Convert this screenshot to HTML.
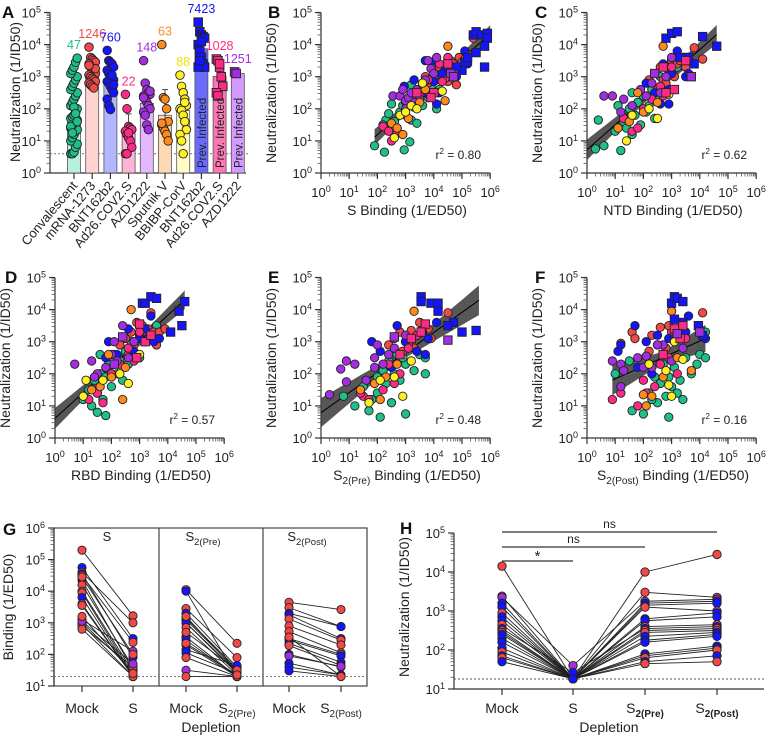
<!DOCTYPE html>
<html><head><meta charset="utf-8"><title>Neutralization vs binding figure</title>
<style>
html,body{margin:0;padding:0;background:#fff;}
svg{display:block;font-family:"Liberation Sans",Arial,sans-serif;}
</style></head>
<body>
<svg id="fig" width="768" height="738" viewBox="0 0 768 738" xmlns="http://www.w3.org/2000/svg"></svg>
<script>
// ===== Panel A data (log10 values) =====
const aCategories=["Convalescent","mRNA-1273","BNT162b2","Ad26.COV2.S","AZD1222","Sputnik V","BBIBP-CorV","BNT162b2","Ad26.COV2.S","AZD1222"];
const aGeoMeans=[47,1246,760,22,148,63,88,7423,1028,1251];
const aColors=["g","r","b","p","m","o","y","B","P","M"];
const aPrevInfected=[false,false,false,false,false,false,false,true,true,true];
const aPoints=[
[0.6,0.6,0.65,0.8,0.9,1.0,1.1,1.2,1.3,1.35,1.4,1.5,1.55,1.6,1.65,1.7,1.75,1.8,1.9,2.0,2.1,2.2,2.3,2.4,2.5,2.6,2.7,2.8,2.9,3.0,3.1,3.2,3.3,3.45,3.58,1.45,1.25,2.05,1.85,1.6],
[3.92,3.6,3.55,3.5,3.45,3.4,3.3,3.2,3.15,3.1,3.05,3.0,2.95,2.9,2.85,2.8,2.75,2.7,2.65,3.25,3.35],
[3.82,3.5,3.45,3.4,3.3,3.2,3.1,3.0,2.95,2.9,2.85,2.8,2.7,2.6,2.5,2.3,2.1,1.98,3.05,2.75],
[2.45,2.0,1.45,1.4,1.35,1.3,1.2,1.1,1.0,0.8,0.6,0.6,1.25],
[3.5,2.8,2.6,2.5,2.45,2.4,2.3,2.2,2.1,2.0,1.9,1.8,1.5,1.35,2.55,2.35],
[4.0,2.35,2.3,2.0,1.6,1.5,1.4,1.3,1.2,1.0,1.55],
[3.05,2.7,2.5,2.3,2.1,2.0,1.95,1.8,1.6,1.35,1.2,1.0,0.6,2.2],
[4.7,4.4,4.3,4.25,4.2,4.0,3.8,3.6,3.4,3.3,3.3,3.5,4.1],
[3.55,3.5,3.3,3.0,2.7,2.5,2.4,3.4],
[3.15,3.1]
];
const aLimitLog=0.6;

// ===== Scatter panels data [log10 binding, log10 neutralization, group] =====
const panelBPoints=[[1.9,0.85,'g'],[2.25,0.65,'g'],[2.95,0.72,'g'],[3.15,0.97,'g'],[2.3,1.65,'g'],[2.4,1.85,'g'],[2.5,1.3,'g'],[2.6,1.2,'g'],[2.7,1.4,'g'],[2.5,2.15,'g'],[2.8,1.9,'g'],[3.0,1.8,'g'],[3.2,1.65,'g'],[3.3,2.05,'g'],[3.4,1.55,'g'],[2.6,1.6,'g'],[3.5,2.4,'g'],[3.8,2.35,'g'],[3.9,2.7,'g'],[4.1,2.0,'g'],[4.2,2.6,'g'],[4.3,2.9,'g'],[4.4,3.3,'g'],[3.2,2.75,'g'],[4.0,3.0,'g'],[2.2,1.5,'g'],[2.9,2.1,'g'],[3.6,2.1,'g'],[4.5,3.55,'g'],
[3.7,3.0,'r'],[3.8,2.8,'r'],[4.0,3.2,'r'],[4.1,3.4,'r'],[4.3,3.1,'r'],[4.5,3.3,'r'],[4.6,3.5,'r'],[4.7,3.4,'r'],[4.8,2.75,'r'],[4.5,2.85,'r'],[4.9,3.6,'r'],[5.0,3.45,'r'],[5.1,3.55,'r'],[5.2,3.7,'r'],[4.2,3.3,'r'],[4.6,3.1,'r'],[5.4,4.2,'r'],[4.4,2.95,'r'],
[2.95,2.7,'b'],[3.3,2.9,'b'],[3.7,3.5,'b'],[3.9,3.45,'b'],[4.0,2.85,'b'],[4.2,2.5,'b'],[4.1,2.15,'b'],[4.4,3.3,'b'],[4.6,3.1,'b'],[4.8,3.0,'b'],[5.0,3.3,'b'],[5.1,3.8,'b'],[5.2,3.4,'b'],[4.3,3.1,'b'],[3.8,2.45,'b'],[3.2,2.15,'b'],
[2.2,1.45,'p'],[2.4,1.3,'p'],[2.5,1.0,'p'],[2.7,1.25,'p'],[3.0,2.2,'p'],[3.3,2.4,'p'],[3.8,2.9,'p'],[4.2,3.4,'p'],[4.3,2.85,'p'],[4.5,3.6,'p'],[3.5,2.4,'p'],
[2.55,2.4,'m'],[2.8,2.4,'m'],[3.0,2.25,'m'],[3.1,2.35,'m'],[3.2,2.5,'m'],[3.4,2.6,'m'],[3.6,2.75,'m'],[3.7,2.9,'m'],[3.8,3.5,'m'],[3.9,3.25,'m'],[4.1,3.6,'m'],[3.5,2.3,'m'],[2.9,2.6,'m'],[4.0,3.1,'m'],[3.3,2.2,'m'],[3.0,2.0,'m'],
[2.5,1.55,'o'],[2.7,1.4,'o'],[2.9,1.2,'o'],[3.5,2.2,'o'],[4.5,3.95,'o'],[4.4,2.25,'o'],[3.7,2.6,'o'],[3.1,1.7,'o'],
[2.6,1.1,'y'],[2.8,1.8,'y'],[3.0,1.9,'y'],[3.2,2.1,'y'],[3.6,2.8,'y'],[4.3,2.55,'y'],[3.4,2.0,'y'],
[5.4,4.3,'B'],[5.5,4.4,'B'],[5.7,4.3,'B'],[5.9,4.35,'B'],[5.9,4.2,'B'],[5.5,3.75,'B'],[5.8,3.95,'B'],[5.8,3.3,'B'],[5.1,3.45,'B'],[5.0,3.2,'B'],[5.2,3.6,'B'],[4.8,3.3,'B'],
[4.5,3.4,'P'],[4.7,3.0,'P'],[4.0,2.5,'P'],[3.9,2.35,'P'],[3.4,2.5,'P'],[4.6,3.1,'M'],[4.7,3.0,'M']];
const panelCPoints=[[0.3,0.75,'g'],[0.4,1.65,'g'],[0.6,0.85,'g'],[1.0,1.3,'g'],[1.1,2.1,'g'],[1.2,0.7,'g'],[1.3,1.6,'g'],[1.4,1.4,'g'],[1.5,2.0,'g'],[1.6,1.2,'g'],[1.7,1.8,'g'],[1.8,2.2,'g'],[1.9,1.5,'g'],[2.0,2.4,'g'],[2.1,1.9,'g'],[2.2,2.1,'g'],[2.3,2.6,'g'],[2.5,2.3,'g'],[2.6,3.0,'g'],[2.8,2.7,'g'],[2.4,1.7,'g'],[1.6,2.5,'g'],[3.0,3.5,'g'],[3.2,3.3,'g'],
[2.2,2.9,'r'],[2.4,3.1,'r'],[2.6,3.3,'r'],[2.7,2.9,'r'],[2.9,3.2,'r'],[3.0,3.5,'r'],[3.1,3.0,'r'],[3.2,3.4,'r'],[3.3,3.5,'r'],[3.5,3.3,'r'],[3.6,3.6,'r'],[3.8,3.9,'r'],[4.1,3.55,'r'],[2.5,2.6,'r'],[2.8,2.8,'r'],
[2.1,2.8,'b'],[2.4,2.5,'b'],[2.7,3.4,'b'],[2.9,2.6,'b'],[3.0,3.1,'b'],[3.2,3.8,'b'],[3.4,3.6,'b'],[3.5,3.0,'b'],[3.6,3.1,'b'],[2.6,2.15,'b'],[2.9,2.15,'b'],
[1.3,1.7,'p'],[1.6,1.3,'p'],[1.8,1.4,'p'],[2.0,2.0,'p'],[2.3,2.3,'p'],[2.6,2.7,'p'],[3.0,3.3,'p'],[2.7,2.4,'p'],
[0.6,2.4,'m'],[0.9,2.4,'m'],[1.3,2.3,'m'],[1.6,2.1,'m'],[1.9,2.6,'m'],[2.1,2.4,'m'],[2.3,2.8,'m'],[2.6,2.5,'m'],[2.8,3.0,'m'],[1.2,1.9,'m'],[3.0,3.6,'m'],
[1.1,1.4,'o'],[1.5,1.6,'o'],[2.0,1.9,'o'],[2.5,2.2,'o'],[2.7,3.95,'o'],[1.8,2.5,'o'],
[1.4,1.0,'y'],[1.6,1.8,'y'],[2.2,2.0,'y'],[2.5,1.7,'y'],[2.9,2.45,'y'],
[2.8,4.2,'B'],[3.0,4.35,'B'],[3.2,4.4,'B'],[4.1,4.25,'B'],[4.6,3.95,'B'],[3.8,3.4,'B'],[3.6,3.6,'B'],[3.3,3.6,'B'],
[2.7,3.3,'P'],[3.5,3.5,'P'],[3.1,2.6,'P'],[2.8,2.5,'P'],[2.4,3.1,'M'],[3.7,3.0,'M']];
const panelDPoints=[[1.0,1.2,'g'],[1.2,1.5,'g'],[1.3,1.0,'g'],[1.4,1.8,'g'],[1.5,1.4,'g'],[1.6,2.0,'g'],[1.7,1.2,'g'],[1.8,1.9,'g'],[1.9,2.3,'g'],[2.0,1.6,'g'],[2.1,2.6,'g'],[2.2,2.0,'g'],[2.3,2.4,'g'],[2.5,2.7,'g'],[2.6,2.3,'g'],[2.7,3.0,'g'],[2.9,2.6,'g'],[1.6,2.6,'g'],[2.4,1.8,'g'],[3.0,2.5,'g'],[1.5,0.8,'g'],[1.8,0.7,'g'],[3.6,3.5,'g'],
[2.3,2.9,'r'],[2.5,3.1,'r'],[2.7,3.3,'r'],[2.8,2.9,'r'],[3.0,3.2,'r'],[3.1,3.5,'r'],[3.2,3.0,'r'],[3.3,3.4,'r'],[3.4,3.9,'r'],[3.5,3.3,'r'],[3.7,3.3,'r'],[3.9,3.4,'r'],[2.6,2.6,'r'],[2.9,3.6,'r'],[3.6,2.9,'r'],
[1.9,3.0,'b'],[2.2,2.6,'b'],[2.6,3.4,'b'],[2.8,2.7,'b'],[3.0,3.1,'b'],[3.2,3.4,'b'],[3.4,3.8,'b'],[3.5,3.0,'b'],[3.7,3.1,'b'],[2.1,2.3,'b'],[1.8,2.5,'b'],
[1.2,1.2,'p'],[1.5,1.4,'p'],[1.7,1.1,'p'],[2.0,2.0,'p'],[2.3,2.3,'p'],[2.6,2.8,'p'],[3.0,3.3,'p'],[2.8,2.4,'p'],
[0.7,2.3,'m'],[1.3,2.4,'m'],[1.5,2.0,'m'],[1.8,2.2,'m'],[2.0,2.6,'m'],[2.2,2.4,'m'],[2.4,3.5,'m'],[2.6,2.5,'m'],[2.8,3.0,'m'],[1.4,1.9,'m'],[2.1,3.0,'m'],
[1.3,1.5,'o'],[1.6,1.6,'o'],[2.0,1.9,'o'],[2.4,1.2,'o'],[2.7,4.0,'o'],[1.9,2.6,'o'],[2.5,2.2,'o'],
[1.0,1.3,'y'],[1.7,1.8,'y'],[2.3,2.0,'y'],[2.6,1.7,'y'],[3.0,2.6,'y'],[1.1,1.8,'y'],
[3.1,4.2,'B'],[3.2,4.2,'B'],[3.4,4.4,'B'],[3.6,4.35,'B'],[4.6,4.25,'B'],[4.4,3.95,'B'],[4.5,3.5,'B'],[4.1,3.3,'B'],
[3.0,3.55,'P'],[3.2,3.0,'P'],[3.4,3.2,'P'],[2.9,2.5,'P'],[2.4,3.15,'M'],[2.1,2.3,'M']];
const panelEPoints=[[0.8,1.3,'g'],[1.2,1.0,'g'],[1.5,1.6,'g'],[1.8,1.2,'g'],[2.0,1.9,'g'],[2.0,1.4,'g'],[2.2,2.1,'g'],[2.3,1.7,'g'],[2.4,2.4,'g'],[2.5,1.1,'g'],[2.6,2.0,'g'],[2.7,2.6,'g'],[2.8,1.8,'g'],[3.0,2.3,'g'],[3.1,2.9,'g'],[3.3,2.1,'g'],[3.5,2.6,'g'],[3.7,2.5,'g'],[2.9,2.5,'g'],[2.1,0.65,'g'],[3.0,0.75,'g'],[1.7,0.85,'g'],[3.7,2.0,'g'],[3.6,3.5,'g'],
[2.4,2.9,'r'],[2.6,3.1,'r'],[2.8,3.3,'r'],[3.0,3.0,'r'],[3.2,3.35,'r'],[3.3,2.8,'r'],[3.4,3.2,'r'],[3.6,3.4,'r'],[3.8,3.4,'r'],[3.9,3.1,'r'],[4.5,3.9,'r'],[2.9,2.7,'r'],[3.5,3.6,'r'],[3.1,2.9,'r'],
[1.8,3.0,'b'],[2.1,2.7,'b'],[2.7,3.5,'b'],[3.0,3.0,'b'],[3.2,3.1,'b'],[3.4,2.7,'b'],[3.6,3.3,'b'],[3.8,3.1,'b'],[4.1,3.6,'b'],[2.5,2.2,'b'],[3.7,2.6,'b'],
[1.5,1.3,'p'],[1.7,1.2,'p'],[2.2,1.5,'p'],[2.4,2.3,'p'],[2.8,2.0,'p'],[3.1,2.8,'p'],[3.4,3.2,'p'],[2.6,1.7,'p'],[1.4,1.4,'p'],
[0.3,1.35,'m'],[0.7,2.15,'m'],[0.9,2.4,'m'],[1.2,2.3,'m'],[0.9,1.75,'m'],[1.9,2.5,'m'],[1.9,2.2,'m'],[2.0,2.9,'m'],[2.2,2.3,'m'],[2.6,2.8,'m'],[1.6,1.8,'m'],[3.0,3.2,'m'],[2.4,2.6,'m'],
[1.4,1.5,'o'],[1.9,1.7,'o'],[2.3,1.9,'o'],[2.7,2.3,'o'],[3.3,3.95,'o'],[2.1,1.2,'o'],
[1.7,1.1,'y'],[2.1,1.8,'y'],[2.6,1.9,'y'],[2.9,1.3,'y'],[3.2,2.4,'y'],
[3.55,4.4,'B'],[3.55,4.25,'B'],[3.9,4.2,'B'],[4.15,4.2,'B'],[4.15,3.95,'B'],[5.5,3.35,'B'],[5.0,3.3,'B'],[4.7,3.6,'B'],[4.5,3.5,'B'],
[3.7,3.55,'P'],[3.55,3.3,'P'],[3.2,3.1,'P'],[2.8,2.6,'P'],[2.6,3.15,'M'],[4.5,3.05,'M']];
const panelFPoints=[[1.0,2.0,'g'],[1.5,2.4,'g'],[1.6,0.85,'g'],[2.0,0.75,'g'],[2.2,1.4,'g'],[2.4,1.9,'g'],[2.5,1.1,'g'],[2.6,1.7,'g'],[2.7,2.3,'g'],[2.8,1.3,'g'],[2.9,1.9,'g'],[2.9,0.65,'g'],[3.0,1.6,'g'],[3.1,2.2,'g'],[3.2,1.4,'g'],[3.3,1.8,'g'],[3.5,2.5,'g'],[3.7,2.0,'g'],[3.9,2.3,'g'],[4.0,2.6,'g'],[4.2,2.5,'g'],[3.4,1.2,'g'],[2.3,1.2,'g'],[4.2,3.3,'g'],
[1.2,2.95,'r'],[1.6,3.3,'r'],[1.7,3.1,'r'],[2.3,3.2,'r'],[2.6,3.45,'r'],[2.8,2.8,'r'],[3.0,3.3,'r'],[3.1,3.0,'r'],[3.4,3.35,'r'],[2.5,2.9,'r'],[2.2,2.7,'r'],[4.1,3.9,'r'],[2.9,3.5,'r'],[3.1,3.2,'r'],
[1.1,2.7,'b'],[1.2,2.9,'b'],[1.7,3.5,'b'],[2.1,3.0,'b'],[2.5,3.2,'b'],[2.9,3.1,'b'],[3.1,3.1,'b'],[3.6,3.8,'b'],[3.5,3.3,'b'],[4.2,3.1,'b'],[2.3,2.0,'b'],[1.8,2.2,'b'],
[0.9,1.2,'p'],[1.2,1.4,'p'],[1.8,1.0,'p'],[2.1,1.4,'p'],[2.6,2.3,'p'],[2.9,2.5,'p'],[3.2,2.0,'p'],[3.5,3.1,'p'],[2.4,1.6,'p'],[2.0,1.8,'p'],
[0.9,2.4,'m'],[1.2,2.3,'m'],[1.3,2.1,'m'],[1.8,2.5,'m'],[2.0,2.2,'m'],[2.3,2.2,'m'],[2.7,2.9,'m'],[3.0,2.4,'m'],[3.4,2.8,'m'],[1.2,1.6,'m'],[2.5,2.9,'m'],[2.1,2.55,'m'],
[2.0,1.35,'o'],[2.1,1.0,'o'],[2.7,1.9,'o'],[3.2,2.5,'o'],[3.0,3.95,'o'],[2.3,1.3,'o'],[3.7,2.1,'o'],
[2.2,2.3,'y'],[2.8,2.1,'y'],[3.0,1.3,'y'],[2.9,1.65,'y'],[3.1,3.0,'y'],[3.4,2.45,'y'],
[3.0,4.2,'B'],[3.1,4.4,'B'],[3.2,4.35,'B'],[3.4,4.25,'B'],[3.4,3.6,'B'],[3.1,3.7,'B'],[3.95,3.5,'B'],[4.1,3.2,'B'],
[3.1,3.4,'P'],[3.3,3.1,'P'],[3.4,3.5,'P'],[2.7,2.6,'P'],[3.2,3.25,'M'],[4.0,3.3,'M']];
const scatterR2=["0.80","0.62","0.57","0.48","0.16"];

// ===== Panel G data: [mock, depleted, group] (log10 binding) =====
const gS=[[5.3,3.22,'r'],[4.75,2.5,'b'],[4.6,3.0,'r'],[4.55,1.9,'b'],[4.5,2.38,'r'],[4.35,1.5,'b'],[4.2,1.6,'r'],[4.0,1.45,'r'],[3.95,1.35,'r'],[3.8,1.3,'b'],[3.6,1.3,'r'],[3.55,1.3,'r'],[3.1,2.1,'m'],[3.0,1.5,'r'],[2.95,1.3,'b'],[2.9,1.6,'r'],[2.8,1.3,'r'],[3.05,1.7,'m'],[3.2,1.4,'r'],[4.45,2.0,'r']];
const gS2Pre=[[4.05,2.35,'r'],[4.0,1.3,'b'],[3.45,1.9,'r'],[3.3,1.6,'b'],[3.15,1.55,'r'],[3.1,1.5,'b'],[3.0,1.45,'r'],[3.0,1.4,'b'],[2.85,1.35,'r'],[2.55,1.3,'b'],[2.45,1.3,'b'],[2.3,1.3,'b'],[2.15,1.65,'b'],[2.05,1.4,'b'],[1.9,1.3,'r'],[1.5,1.3,'m'],[1.3,1.3,'r'],[3.2,1.45,'r'],[2.7,1.5,'r'],[2.35,1.35,'r']];
const gS2Post=[[3.65,3.42,'r'],[3.48,2.88,'r'],[3.3,2.88,'b'],[3.25,2.5,'b'],[3.12,2.45,'r'],[2.9,2.3,'r'],[2.72,2.05,'r'],[2.5,2.0,'r'],[2.45,1.95,'b'],[2.35,1.75,'b'],[2.28,1.65,'r'],[2.0,1.6,'b'],[1.95,1.62,'m'],[1.72,1.35,'b'],[1.6,1.35,'b'],[1.48,1.3,'b'],[2.55,1.3,'r']];
const gCategories=["Mock","S","Mock","S2(Pre)","Mock","S2(Post)"];
const gLimitLog=1.3;

// ===== Panel H data: [mock, S, S2(Pre), S2(Post), group] (log10 neutralization) =====
const hRows=[[4.15,1.26,4.0,4.45,'r'],[3.38,1.26,3.48,3.35,'r'],[3.35,1.6,3.25,3.3,'m'],[3.2,1.26,3.2,3.25,'b'],[3.1,1.26,3.15,3.2,'b'],[2.95,1.26,3.1,3.0,'r'],[2.85,1.26,2.8,2.95,'b'],[2.75,1.26,2.75,2.85,'b'],[2.65,1.26,2.6,2.65,'r'],[2.55,1.42,2.55,2.6,'b'],[2.5,1.26,2.5,2.55,'r'],[2.45,1.26,2.45,2.5,'r'],[2.4,1.26,2.35,2.45,'b'],[2.3,1.26,2.25,2.4,'b'],[2.2,1.26,1.9,2.1,'b'],[2.05,1.26,1.85,2.05,'b'],[1.95,1.26,1.8,2.0,'r'],[1.85,1.26,1.7,1.85,'b'],[1.8,1.26,1.65,1.7,'r'],[1.7,1.26,2.2,2.35,'b']];
const hCategories=["Mock","S","S2(Pre)","S2(Post)"];
const hComparisons=[[0,1,"*"],[0,2,"ns"],[0,3,"ns"]];
const hLimitLog=1.255;

// ===== drawing =====
const NS="http://www.w3.org/2000/svg";
const svg=document.getElementById("fig");
const COL={g:"#1fbf8a",r:"#f24848",b:"#1414ff",p:"#ff2a86",m:"#a22ee0",o:"#ff8a1c",y:"#fff022",B:"#1414ff",P:"#ff2a86",M:"#a22ee0"};
const LIGHT={g:"#b8f0dc",r:"#ffd4d0",b:"#b4b4ff",p:"#ffb4d4",m:"#e4b8ff",o:"#ffd8b4",y:"#fffcc8",B:"#6a6aff",P:"#ff76b4",M:"#d49aff"};
function mk(tag,parent){const e=document.createElementNS(NS,tag);(parent||svg).appendChild(e);return e;}
function set(e,o){for(const k in o)e.setAttribute(k,o[k]);return e;}
function powLabel(parent,x,y,exp,anchor){
  const t=mk("text",parent);
  set(t,{x:x,y:y,"text-anchor":anchor,"font-size":"13",fill:"#222"});
  const a=mk("tspan",t);a.textContent="10";
  const b=mk("tspan",t);set(b,{dy:"-5","font-size":"9"});b.textContent=String(exp);
  
  
  return t;
}
function line(parent,x1,y1,x2,y2,stroke,w,dash){
  const l=mk("line",parent);set(l,{x1:x1,y1:y1,x2:x2,y2:y2,stroke:stroke||"#333","stroke-width":w||1});
  if(dash)l.setAttribute("stroke-dasharray",dash);
  return l;
}
function logYAxis(parent,x,yOf,lo,hi){
  const g=mk("g",parent);
  
  
  line(g,x,yOf(lo),x,yOf(hi),"#333",1.2);
  for(let d=lo;d<=hi;d++){
    line(g,x-6,yOf(d),x,yOf(d),"#333",1.2);
    powLabel(g,x-9,yOf(d)+5,d,"end");
    if(d<hi)for(let k=2;k<10;k++){const v=d+Math.log10(k);line(g,x-3.5,yOf(v),x,yOf(v),"#555",0.8);}
  }
  return g;
}
function logXAxis(parent,y,xOf,lo,hi){
  const g=mk("g",parent);
  
  
  line(g,xOf(lo),y,xOf(hi),y,"#333",1.2);
  for(let d=lo;d<=hi;d++){
    line(g,xOf(d),y,xOf(d),y+6,"#333",1.2);
    powLabel(g,xOf(d),y+24,d,"middle");
    if(d<hi)for(let k=2;k<10;k++){const v=d+Math.log10(k);line(g,xOf(v),y,xOf(v),y+3.5,"#555",0.8);}
  }
  return g;
}
function marker(parent,x,y,code,r){
  let e;
  if(code===code.toUpperCase()){e=mk("rect",parent);set(e,{x:x-r,y:y-r,width:2*r,height:2*r});}
  else{e=mk("circle",parent);set(e,{cx:x,cy:y,r:r});}
  set(e,{fill:COL[code],stroke:"#222","stroke-width":0.9});
  return e;
}
function letter(t,x,y){const e=mk("text");set(e,{x:x,y:y,"font-size":"17","font-weight":"bold",fill:"#111"});e.textContent=t;
  
  }
function rotLabel(parent,text,x,y,size){const e=mk("text",parent);set(e,{x:0,y:0,transform:"translate("+x+","+y+") rotate(-90)","text-anchor":"middle","font-size":size||"14",fill:"#222"});e.textContent=text;
  
  return e;}

// ---- Panel A ----
(function(){
  const g=mk("g");
  
  
  const yA=v=>173-v*32.1;
  const xA=i=>74+i*18.2;
  logYAxis(g,50,yA,0,5);
  rotLabel(g,"Neutralization (1/ID50)",20,92);
  line(g,50,173,246,173,"#333",1.2);
  line(g,50,yA(aLimitLog),250,yA(aLimitLog),"#777",1,"2,2");
  aCategories.forEach((c,i)=>{
    const cx=xA(i);const top=yA(Math.log10(aGeoMeans[i]));
    const bar=mk("rect",g);set(bar,{x:cx-6.5,y:top,width:13,height:173-top,fill:LIGHT[aColors[i]],stroke:"#555","stroke-width":0.8});
    
    
    const pts=aPoints[i];const m=pts.reduce((a,b)=>a+b,0)/pts.length;
    const sd=Math.sqrt(pts.reduce((a,b)=>a+(b-m)*(b-m),0)/pts.length);
    const gm=Math.log10(aGeoMeans[i]);
    line(g,cx,yA(gm+sd),cx,yA(Math.max(0,gm-sd)),"#333",0.9);
    line(g,cx-3,yA(gm+sd),cx+3,yA(gm+sd),"#333",0.9);
    pts.forEach((v,j)=>{const off=((j%5)-2)*1.6;const mkr=marker(g,cx+off,yA(v),aColors[i],4.3);
      
      });
    const mx=Math.max(...pts);
    const lab=mk("text",g);set(lab,{x:cx,y:yA(mx)-9,"text-anchor":"middle","font-size":"12.5",fill:COL[aColors[i]]});
    if(aColors[i]==="y")lab.setAttribute("fill","#f2e000");
    lab.textContent=aGeoMeans[i];
    
    
    line(g,cx,173,cx,179,"#333",1.2);
    const xl=mk("text",g);set(xl,{x:0,y:0,transform:"translate("+(cx+4)+",186) rotate(-50)","text-anchor":"end","font-size":"13",fill:"#222"});
    xl.textContent=c;
    
    
    if(aPrevInfected[i]){
      const pl=mk("text",g);set(pl,{x:0,y:0,transform:"translate("+(cx+4.5)+",168) rotate(-90)","font-size":"11.5",fill:"#222"});
      pl.textContent="Prev. Infected";
      
      
    }
  });
})();
letter("A",2,18);

// ---- Scatter panels ----
const scatterPanels=[
 {id:"B",pts:panelBPoints,ox:321,oy:173,lx:268,ly:18,title:["S Binding (1/ED50)"],fit:[1.9,6.0],band:0.9},
 {id:"C",pts:panelCPoints,ox:587,oy:173,lx:535,ly:18,title:["NTD Binding (1/ED50)"],fit:[0,4.6],band:1.0},
 {id:"D",pts:panelDPoints,ox:55,oy:438,lx:5,ly:283,title:["RBD Binding (1/ED50)"],fit:[0,4.6],band:1.0},
 {id:"E",pts:panelEPoints,ox:321,oy:438,lx:268,ly:283,title:["S","2(Pre)"," Binding (1/ED50)"],fit:[0,5.6],band:1.3},
 {id:"F",pts:panelFPoints,ox:587,oy:438,lx:535,ly:283,title:["S","2(Post)"," Binding (1/ED50)"],fit:[0.9,4.2],band:1.8}
];
scatterPanels.forEach((p,pi)=>{
  const g=mk("g");
  
  
  const xS=v=>p.ox+v*28.2;const yS=v=>p.oy-v*32.1;
  logYAxis(g,p.ox,yS,0,5);
  logXAxis(g,p.oy,xS,0,6);
  rotLabel(g,"Neutralization (1/ID50)",p.ox-45,p.oy-80);
  const t=mk("text",g);set(t,{x:p.ox+86,y:p.oy+42,"text-anchor":"middle","font-size":"14",fill:"#222"});
  
  
  if(p.title.length===1)t.textContent=p.title[0];
  else{const a=mk("tspan",t);a.textContent=p.title[0];const b=mk("tspan",t);set(b,{dy:"4","font-size":"10"});b.textContent=p.title[1];const c=mk("tspan",t);set(c,{dy:"-4"});c.textContent=p.title[2];}
  // least squares fit
  const n=p.pts.length;const mx=p.pts.reduce((a,q)=>a+q[0],0)/n;const my=p.pts.reduce((a,q)=>a+q[1],0)/n;
  let sxy=0,sxx=0;p.pts.forEach(q=>{sxy+=(q[0]-mx)*(q[1]-my);sxx+=(q[0]-mx)*(q[0]-mx);});
  const b=sxy/sxx,a=my-b*mx;
  const hw=x=>0.1*p.band+0.09*p.band*Math.abs(x-mx);
  let up="",dn="";
  for(let i=0;i<=20;i++){const x=p.fit[0]+(p.fit[1]-p.fit[0])*i/20;up+=xS(x)+","+yS(a+b*x+hw(x))+" ";}
  for(let i=20;i>=0;i--){const x=p.fit[0]+(p.fit[1]-p.fit[0])*i/20;dn+=xS(x)+","+yS(a+b*x-hw(x))+" ";}
  const band=mk("polygon",g);set(band,{points:up+dn,fill:"#3a3a3a","fill-opacity":0.85});
  
  
  const fl=line(g,xS(p.fit[0]),yS(a+b*p.fit[0]),xS(p.fit[1]),yS(a+b*p.fit[1]),"#000",1);
  
  
  p.pts.forEach(q=>{const m=marker(g,xS(q[0]),yS(q[1]),q[2],4.2);
    
    });
  const r=mk("text",g);set(r,{x:p.ox+160,y:p.oy-14,"text-anchor":"end","font-size":"12",fill:"#222"});
  const r1=mk("tspan",r);r1.textContent="r";const r2=mk("tspan",r);set(r2,{dy:"-5","font-size":"8"});r2.textContent="2";
  const r3=mk("tspan",r);set(r3,{dy:"5"});r3.textContent=" = "+scatterR2[pi];
  
  
  letter(p.id,p.lx,p.ly);
});

// ---- Panel G ----
(function(){
  const g=mk("g");
  
  
  const yG=v=>686-(v-1)*31.6;
  const xG=[82,133,186,237,289,341];
  const frame=mk("rect",g);set(frame,{x:54,y:yG(6),width:313,height:yG(1)-yG(6),fill:"none",stroke:"#444","stroke-width":1.2});
  
  
  line(g,159,yG(6),159,yG(1),"#444",1.2);line(g,263,yG(6),263,yG(1),"#444",1.2);
  logYAxis(g,54,yG,1,6);
  line(g,54,yG(gLimitLog),367,yG(gLimitLog),"#777",1,"2,2");
  rotLabel(g,"Binding (1/ED50)",13,607);
  [gS,gS2Pre,gS2Post].forEach((set2,si)=>{
    const x1=xG[si*2],x2=xG[si*2+1];
    set2.forEach(q=>{const l=line(g,x1,yG(q[0]),x2,yG(q[1]),"#222",0.9);});
    set2.forEach(q=>{const m1=marker(g,x1,yG(q[0]),q[2],4.1);
      const m2=marker(g,x2,yG(q[1]),q[2],4.1);});
  });
  const subT=[["S",""],["S","2(Pre)"],["S","2(Post)"]];
  subT.forEach((s,i)=>{const t=mk("text",g);set(t,{x:[107,211,315][i]-(s[1]?8:0),y:541,"text-anchor":"middle","font-size":"13",fill:"#222"});
    const a=mk("tspan",t);a.textContent=s[0];if(s[1]){const b=mk("tspan",t);set(b,{dy:"4","font-size":"9.5"});b.textContent=s[1];}
    });
  gCategories.forEach((c,i)=>{
    line(g,xG[i],686,xG[i],692,"#333",1.2);
    const t=mk("text",g);set(t,{x:xG[i],y:713,"text-anchor":"middle","font-size":"14",fill:"#222"});
    const m=c.match(/^S(2\(.*\))$/);
    if(m){const a=mk("tspan",t);a.textContent="S";const b=mk("tspan",t);set(b,{dy:"4","font-size":"10"});b.textContent=m[1];}
    else t.textContent=c;
    
  });
  const d=mk("text",g);set(d,{x:211,y:732,"text-anchor":"middle","font-size":"14",fill:"#222"});d.textContent="Depletion";
  
})();
letter("G",3,535);

// ---- Panel H ----
(function(){
  const g=mk("g");
  
  
  const yH=v=>689-(v-1)*39;
  const xH=[502,573,645,717];
  logYAxis(g,454,yH,1,5);
  line(g,454,689,764,689,"#333",1.2);
  line(g,454,yH(hLimitLog),764,yH(hLimitLog),"#555",1,"2,2");
  rotLabel(g,"Neutralization (1/ID50)",409,607);
  hRows.forEach(q=>{for(let k=0;k<3;k++){const l=line(g,xH[k],yH(q[k]),xH[k+1],yH(q[k+1]),"#222",0.9);}});
  hRows.forEach(q=>{for(let k=0;k<4;k++){const m=marker(g,xH[k],yH(q[k]),q[4],4.2);}});
  hCategories.forEach((c,i)=>{
    line(g,xH[i],689,xH[i],695,"#333",1.2);
    const t=mk("text",g);set(t,{x:xH[i],y:713,"text-anchor":"middle","font-size":"14",fill:"#222"});
    const m=c.match(/^S(2\(.*\))$/);
    if(m){const a=mk("tspan",t);a.textContent="S";const b=mk("tspan",t);set(b,{dy:"4","font-size":"10","font-weight":"bold"});b.textContent=m[1];}
    else t.textContent=c;
    
  });
  const d=mk("text",g);set(d,{x:609,y:732,"text-anchor":"middle","font-size":"14",fill:"#222"});d.textContent="Depletion";
  
  const barY=[561,547,532];
  hComparisons.forEach((c,i)=>{
    const l=line(g,xH[c[0]],barY[i],xH[c[1]],barY[i],"#333",1.2);
    
    const t=mk("text",g);set(t,{x:(xH[c[0]]+xH[c[1]])/2,y:barY[i]-(c[2]==="*"?0:4),"text-anchor":"middle","font-size":c[2]==="*"?"15":"12",fill:"#222"});
    t.textContent=c[2];
    
  });
})();
letter("H",400,534);
</script>
</body></html>
